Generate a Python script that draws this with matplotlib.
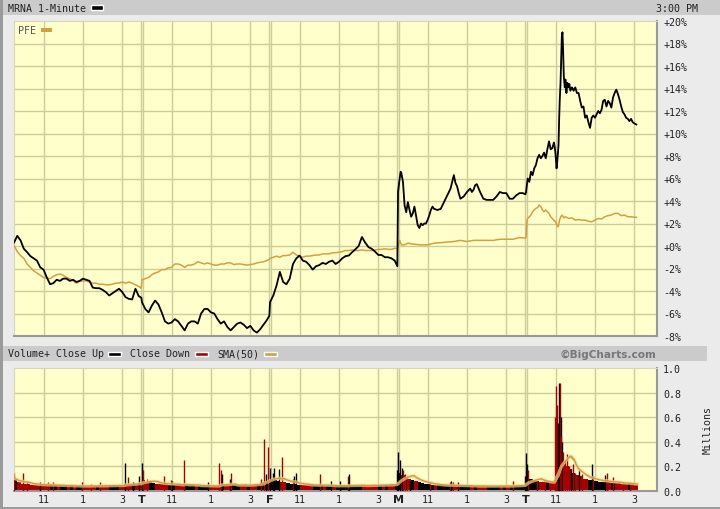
import matplotlib
matplotlib.use("Agg")
import matplotlib.pyplot as plt
from matplotlib.patches import Rectangle
import numpy as np

plt.rcParams["font.family"] = "DejaVu Sans Mono"

W, H = 720, 510
DAY = 390  # minutes in a session (9:30 - 4:00)

day_names = ["", "T", "F", "M", "T"]
hour_labels = ["11", "1", "3"]
hour_minutes = [90, 210, 330]

# sample times (minutes after the open) for the regular days
reg_t = list(range(0, 390, 10)) + [388]

# MRNA % change
mrna_d1 = [0.3, 0.9, 0.5, -0.25, -0.55, -0.9, -1.1, -1.3, -1.9, -2.1,
           -2.8, -3.4, -3.3, -3.0, -3.1, -2.9, -2.9, -3.1, -3.0, -3.2,
           -3.1, -2.9, -3.0, -3.1, -3.7, -3.75, -3.75, -3.9, -4.1, -4.4,
           -4.2, -4.0, -3.8, -4.1, -4.55, -4.7, -4.75, -3.8, -4.45, -4.6]
mrna_d2 = [-5.0, -5.6, -5.9, -5.3, -4.85, -5.2, -5.9, -6.7, -6.9, -6.8,
           -6.5, -6.7, -7.1, -7.5, -6.9, -6.7, -6.7, -6.9, -6.0, -5.6,
           -5.6, -5.9, -6.0, -6.5, -6.9, -6.7, -7.2, -7.5, -7.2, -6.9,
           -6.8, -7.0, -7.3, -7.1, -7.5, -7.7, -7.4, -7.0, -6.6, -6.2]
mrna_d3 = [-5.0, -4.4, -3.5, -2.3, -3.2, -3.4, -2.9, -1.6, -1.1, -0.85,
           -1.3, -1.4, -1.7, -2.1, -1.8, -1.7, -1.5, -1.6, -1.4, -1.3,
           -1.6, -1.4, -1.1, -0.9, -0.85, -0.55, -0.3, 0.0, 0.8, 0.3,
           -0.1, -0.25, -0.5, -0.8, -0.8, -1.0, -1.0, -1.1, -1.3, -1.8]
mrna_d4_t = [0, 5, 8, 10, 15, 20, 25, 30, 35, 40, 45, 50, 55, 60, 65, 70,
             75, 80, 85, 90, 95, 100, 105, 110, 120, 130, 140, 150, 160,
             165, 170, 175, 180, 185, 190, 200, 210, 220, 225, 230, 235,
             240, 250, 260, 270, 280, 290, 300, 310, 320, 330, 340, 350,
             360, 370, 380, 388]
mrna_d4 = [4.8, 6.0, 6.6, 6.5, 5.7, 3.6, 3.0, 3.9, 3.2, 2.6, 2.9, 3.5, 2.7,
           1.85, 1.6, 2.0, 1.85, 2.0, 2.0, 2.3, 2.7, 3.2, 3.5, 3.3, 3.2,
           3.3, 3.9, 4.5, 5.1, 5.7, 6.3, 5.6, 5.3, 4.7, 4.2, 4.4, 4.8,
           5.1, 4.8, 5.0, 5.4, 5.5, 4.8, 4.2, 4.1, 4.1, 4.1, 4.4, 4.8,
           4.7, 4.7, 4.2, 4.2, 4.5, 4.7, 4.7, 4.6]
mrna_d5_t = [0, 5, 10, 15, 20, 25, 30, 35, 40, 45, 50, 55, 60, 65, 70, 75,
             80, 85, 88, 90, 93, 96, 99, 101, 103, 105, 107, 109, 111, 113,
             115, 118, 120, 123, 126, 129, 132, 135, 140, 145, 150, 155,
             160, 165, 170, 175, 180, 185, 190, 195, 200, 205, 210, 215,
             220, 225, 230, 235, 240, 245, 250, 255, 260, 265, 270, 275,
             280, 285, 290, 295, 300, 305, 310, 315, 320, 325, 330, 336]
mrna_d5 = [4.8, 6.0, 5.7, 6.6, 6.3, 6.9, 7.2, 7.8, 8.1, 7.8, 8.0, 8.3, 7.8,
           8.6, 9.3, 8.6, 8.7, 9.2, 8.7, 8.1, 6.9, 7.8, 9.0, 11.4, 13.2,
           14.4, 16.5, 18.6, 19.0, 17.4, 15.1, 14.1, 14.8, 13.6, 14.5,
           14.1, 14.4, 13.8, 14.1, 13.8, 14.1, 13.6, 13.6, 12.9, 12.3,
           12.4, 11.4, 11.6, 11.0, 10.5, 11.4, 11.6, 11.4, 11.7, 12.0,
           11.8, 12.1, 12.9, 13.0, 12.4, 12.9, 12.7, 12.3, 13.2, 13.6,
           13.9, 13.5, 13.0, 12.4, 11.9, 11.7, 11.4, 11.3, 11.1, 11.3,
           11.0, 10.9, 10.8]

# PFE % change
pfe_d1 = [0.05, -0.5, -0.85, -1.1, -1.6, -1.9, -2.2, -2.4, -2.6, -2.8,
          -2.85, -2.9, -2.7, -2.55, -2.5, -2.6, -2.8, -2.9, -3.1, -3.3,
          -3.15, -3.1, -3.1, -3.2, -3.3, -3.3, -3.4, -3.4, -3.45, -3.45,
          -3.4, -3.3, -3.3, -3.2, -3.3, -3.2, -3.3, -3.45, -3.6, -3.75]
pfe_d2 = [-3.0, -2.9, -2.8, -2.55, -2.4, -2.3, -2.1, -2.1, -1.95, -1.9,
          -1.6, -1.6, -1.7, -1.9, -1.7, -1.7, -1.6, -1.4, -1.5, -1.6,
          -1.5, -1.6, -1.7, -1.7, -1.6, -1.6, -1.5, -1.5, -1.65, -1.6,
          -1.6, -1.65, -1.7, -1.65, -1.6, -1.5, -1.45, -1.4, -1.3, -1.2]
pfe_d3 = [-1.1, -1.0, -0.9, -1.0, -0.85, -0.85, -0.8, -0.55, -0.8, -0.9,
          -1.0, -0.9, -0.9, -0.85, -0.8, -0.8, -0.7, -0.7, -0.7, -0.6,
          -0.6, -0.55, -0.5, -0.4, -0.4, -0.35, -0.4, -0.4, -0.35, -0.4,
          -0.4, -0.4, -0.35, -0.3, -0.3, -0.25, -0.3, -0.3, -0.2, -0.25]
pfe_d4_t = [0, 5, 10, 20, 30, 50, 70, 90, 110, 130, 150, 170, 190, 210,
            230, 250, 270, 290, 310, 330, 350, 370, 388]
pfe_d4 = [0.0, 0.5, 0.1, 0.1, 0.25, 0.15, 0.1, 0.1, 0.25, 0.3, 0.35, 0.4,
          0.5, 0.4, 0.5, 0.5, 0.5, 0.5, 0.6, 0.6, 0.6, 0.75, 0.7]
pfe_d5_t = [0, 3, 5, 10, 15, 20, 25, 30, 35, 40, 45, 50, 55, 60, 65, 70, 75,
            80, 85, 90, 94, 98, 102, 106, 110, 115, 120, 130, 140, 150, 160,
            170, 180, 190, 200, 210, 220, 230, 240, 250, 260, 270, 280,
            290, 300, 310, 320, 330, 336]
pfe_d5 = [0.8, 2.3, 2.45, 2.6, 2.75, 3.05, 3.2, 3.35, 3.4, 3.65, 3.5, 3.2,
          3.05, 3.2, 3.05, 2.9, 2.6, 2.45, 2.3, 2.15, 1.85, 1.7, 2.3, 2.6,
          2.75, 2.5, 2.6, 2.45, 2.5, 2.3, 2.35, 2.3, 2.3, 2.2, 2.15, 2.3,
          2.45, 2.4, 2.6, 2.7, 2.75, 2.9, 2.9, 2.7, 2.75, 2.6, 2.6, 2.55,
          2.55]

# volume (millions), typical bar height per 10-minute block
vol_d1 = [0.09, 0.07, 0.06, 0.055, 0.055, 0.05, 0.05, 0.05, 0.048, 0.048,
          0.045, 0.045, 0.045, 0.045, 0.042, 0.042, 0.042, 0.04, 0.04, 0.04,
          0.04, 0.04, 0.04, 0.04, 0.04, 0.04, 0.042, 0.042, 0.042, 0.045,
          0.045, 0.045, 0.045, 0.048, 0.05, 0.05, 0.055, 0.06, 0.065]
vol_d2 = [0.09, 0.075, 0.07, 0.065, 0.06, 0.06, 0.055, 0.055, 0.05, 0.05,
          0.048, 0.048, 0.045, 0.045, 0.045, 0.045, 0.042, 0.042, 0.042,
          0.04, 0.04, 0.04, 0.04, 0.042, 0.045, 0.045, 0.045, 0.045, 0.045,
          0.045, 0.048, 0.048, 0.05, 0.05, 0.055, 0.06, 0.065, 0.07, 0.08]
vol_d3 = [0.1, 0.09, 0.08, 0.075, 0.07, 0.065, 0.06, 0.055, 0.05, 0.05,
          0.05, 0.048, 0.048, 0.045, 0.045, 0.045, 0.042, 0.042, 0.042,
          0.04, 0.04, 0.04, 0.04, 0.04, 0.042, 0.042, 0.045, 0.045, 0.045,
          0.045, 0.045, 0.045, 0.048, 0.048, 0.05, 0.05, 0.05, 0.055, 0.06]
vol_d4 = [0.15, 0.13, 0.11, 0.1, 0.09, 0.08, 0.07, 0.065, 0.06, 0.055,
          0.05, 0.048, 0.048, 0.045, 0.045, 0.045, 0.045, 0.042, 0.042,
          0.042, 0.042, 0.04, 0.04, 0.04, 0.04, 0.04, 0.04, 0.04, 0.04,
          0.04, 0.04, 0.04, 0.04, 0.04, 0.042, 0.042, 0.045, 0.045, 0.05]
vol_d5 = [0.11, 0.1, 0.09, 0.08, 0.075, 0.07, 0.07, 0.065, 0.07, 0.12,
          0.28, 0.22, 0.2, 0.18, 0.15, 0.13, 0.12, 0.1, 0.095, 0.09, 0.085,
          0.08, 0.075, 0.075, 0.07, 0.07, 0.065, 0.065, 0.065, 0.06, 0.06,
          0.055, 0.055, 0.05]

# single-minute volume spikes: minute from first open, millions, closed up?
spike_min = [0, 26, 39, 79, 105, 120, 206, 234, 262, 338, 348, 364, 382,
             390, 394, 404, 458, 477, 480, 519, 592, 626, 630, 633, 658, 661,
             753, 763, 767, 775, 780, 788, 792, 807, 818, 851, 852, 859, 932,
             966, 993, 1017, 1022, 1166, 1171, 1176, 1181, 1186, 1191, 1197,
             1207, 1268, 1328, 1330, 1339, 1354, 1521, 1557, 1560, 1564,
             1567, 1593, 1618, 1633, 1647, 1650, 1653, 1656, 1659, 1662,
             1665, 1668, 1671, 1674, 1679, 1685, 1691, 1697, 1703, 1709,
             1720, 1730, 1760, 1765, 1801, 1806, 1826, 1856, 1877]
spike_vol = [0.14, 0.15, 0.085, 0.07, 0.07, 0.075, 0.07, 0.06, 0.077, 0.23,
             0.11, 0.077, 0.125, 0.23, 0.17, 0.1, 0.12, 0.09, 0.085, 0.25,
             0.07, 0.23, 0.17, 0.14, 0.1, 0.15, 0.1, 0.42, 0.14, 0.36, 0.19,
             0.15, 0.19, 0.18, 0.28, 0.1, 0.125, 0.15, 0.14, 0.085, 0.085,
             0.12, 0.14, 0.17, 0.32, 0.25, 0.19, 0.17, 0.14, 0.125, 0.085,
             0.07, 0.07, 0.085, 0.077, 0.07, 0.085, 0.125, 0.31, 0.22, 0.17,
             0.085, 0.1, 0.085, 0.6, 0.85, 0.7, 0.55, 0.88, 0.88, 0.6, 0.45,
             0.4, 0.32, 0.25, 0.3, 0.2, 0.18, 0.22, 0.15, 0.17, 0.14, 0.22,
             0.12, 0.13, 0.15, 0.11, 0.077, 0.07]
spike_up = [0, 0, 0, 1, 0, 0, 0, 0, 0, 1, 0, 1, 1, 1, 0, 0, 0, 0, 1, 0, 1, 0,
            0, 1, 1, 0, 0, 0, 1, 0, 1, 1, 1, 1, 0, 0, 1, 1, 0, 1, 1, 0, 1, 1,
            1, 1, 1, 0, 0, 0, 1, 0, 0, 1, 0, 1, 0, 1, 1, 1, 0, 0, 0, 0, 0, 0,
            0, 1, 1, 0, 1, 0, 1, 0, 0, 0, 0, 1, 0, 0, 1, 0, 1, 0, 1, 0, 0, 0,
            0]

C_BG = "#ebebeb"
C_BAR = "#cbcbcb"
C_PLOT = "#ffffcc"
C_GRID = "#cccc99"
C_GOLD = "#d4a03c"
C_RED = "#aa0000"
C_TXT = "#222222"


def join_days(parts):
    t, v = [], []
    for d, (tt, vv) in enumerate(parts):
        t += [d * DAY + m for m in tt]
        v += list(vv)
    return np.array(t, float), np.array(v, float)


mrna_t, mrna_v = join_days([(reg_t, mrna_d1), (reg_t, mrna_d2), (reg_t, mrna_d3),
                            (mrna_d4_t, mrna_d4), (mrna_d5_t, mrna_d5)])
pfe_t, pfe_v = join_days([(reg_t, pfe_d1), (reg_t, pfe_d2), (reg_t, pfe_d3),
                          (pfe_d4_t, pfe_d4), (pfe_d5_t, pfe_d5)])

fig = plt.figure(figsize=(W / 100, H / 100), dpi=100, facecolor=C_BG)


def px_axes(x0, y0, x1, y1):
    return fig.add_axes([x0 / W, 1 - y1 / H, (x1 - x0) / W, (y1 - y0) / H])


def px_rect(x0, y0, x1, y1, **kw):
    fig.add_artist(Rectangle((x0 / W, 1 - y1 / H), (x1 - x0) / W, (y1 - y0) / H,
                             transform=fig.transFigure, **kw))


def px_text(x, y, s, **kw):
    kw.setdefault("color", C_TXT)
    kw.setdefault("fontsize", 7.2)
    kw.setdefault("va", "center")
    fig.text(x / W, 1 - y / H, s, **kw)


# frame strips and header bars
px_rect(0, 0, 2.5, H, color="#9a9a9a", lw=0)
px_rect(0, H - 2.5, W, H, color="#9a9a9a", lw=0)
px_rect(2.5, 0, W, 16, color=C_BAR, lw=0)
px_rect(2.5, 347, 707, 362, color=C_BAR, lw=0)

XMAX = 1959


def style_axes(ax):
    ax.set_facecolor(C_PLOT)
    ax.set_xlim(0, XMAX)
    for d in range(5):
        for hm in hour_minutes:
            ax.axvline(d * DAY + hm, color=C_GRID, lw=1, zorder=0)
        if d > 0:
            ax.axvline(d * DAY - 3, color=C_GRID, lw=1, zorder=0)
            ax.axvline(d * DAY + 3, color=C_GRID, lw=1, zorder=0)
    for side in ("top", "left"):
        ax.spines[side].set_color("#d6d6b8")
    for side in ("bottom", "right"):
        ax.spines[side].set_color("#999999")
        ax.spines[side].set_linewidth(1.5)
    ax.yaxis.tick_right()
    ax.tick_params(axis="y", length=0, pad=4.5, labelsize=7.2, labelcolor=C_TXT)


# ---- price panel ----
ax = px_axes(14, 22, 657, 337)
style_axes(ax)
ax.set_ylim(-8, 20)
yt = list(range(-8, 21, 2))
for v in yt[1:-1]:
    ax.axhline(v, color=C_GRID, lw=1, zorder=0)
ax.set_yticks(yt)
ax.set_yticklabels([f"{v:+d}%" for v in yt])
ax.set_xticks([])
ax.plot(pfe_t, pfe_v, color=C_GOLD, lw=1.1, zorder=3)
ax.plot(mrna_t, mrna_v, color="black", lw=1.3, zorder=4)

px_text(8, 8.5, "MRNA 1-Minute")
px_rect(90.5, 5.5, 102.5, 10.5, facecolor="black", edgecolor="white", lw=1)
px_text(698, 8.5, "3:00 PM", ha="right")
px_text(18, 30.5, "PFE", color="#555555")
px_rect(41, 29, 52, 32.5, color=C_GOLD, lw=0)

# ---- volume panel ----
n_min = 4 * DAY + len(vol_d5) * 10
blocks = vol_d1 + vol_d2 + vol_d3 + vol_d4 + vol_d5
block_start = []
for d, blk in enumerate([vol_d1, vol_d2, vol_d3, vol_d4, vol_d5]):
    block_start += [d * DAY + 10 * i for i in range(len(blk))]
block_start = np.array(block_start, float)
p0 = np.interp(block_start, mrna_t, mrna_v)
p1 = np.interp(block_start + 10, mrna_t, mrna_v)
block_col = ["black" if b >= a else C_RED for a, b in zip(p0, p1)]

per_min = np.repeat(np.array(blocks), 10)[:n_min].astype(float)
for m, v in zip(spike_min, spike_vol):
    per_min[m] = max(per_min[m], v)
csum = np.cumsum(np.insert(per_min, 0, 0))
idx = np.arange(1, n_min + 1)
lo = np.maximum(idx - 50, 0)
sma = (csum[idx] - csum[lo]) / (idx - lo)

axv = px_axes(14, 369, 657, 492)
style_axes(axv)
axv.set_ylim(0, 1.0)
vt = [0, 0.2, 0.4, 0.6, 0.8, 1.0]
for v in vt[1:-1]:
    axv.axhline(v, color=C_GRID, lw=1, zorder=0)
axv.set_yticks(vt)
axv.set_yticklabels([f"{v:.1f}" for v in vt])
axv.bar(block_start, blocks, width=10, align="edge", color=block_col, lw=0, zorder=2)
axv.vlines(spike_min, 0, spike_vol, colors=["black" if u else C_RED for u in spike_up],
           lw=1.0, zorder=3)
axv.plot(np.arange(n_min), sma, color="#f0d49a", lw=2.4, zorder=4, alpha=0.7)
axv.plot(np.arange(n_min), sma, color="#d49a3c", lw=1.0, zorder=5)

xt, xl = [], []
for d in range(5):
    if d > 0:
        xt.append(d * DAY)
        xl.append(day_names[d])
    for hm, lab in zip(hour_minutes, hour_labels):
        xt.append(d * DAY + hm)
        xl.append(lab)
axv.set_xticks(xt)
axv.set_xticklabels(xl)
axv.tick_params(axis="x", length=0, pad=2, labelsize=7.2, labelcolor=C_TXT)
for lab in axv.get_xticklabels():
    if lab.get_text() in day_names[1:]:
        lab.set_fontweight("bold")
        lab.set_fontfamily("DejaVu Sans")
        lab.set_fontsize(8)

px_text(708, 430, "Millions", rotation=90, ha="center")

px_text(7.5, 354.5, "Volume+ Close Up")
px_rect(107.5, 352.5, 120.5, 357, facecolor="black", edgecolor="white", lw=1)
px_text(130.5, 354.5, "Close Down")
px_rect(195.5, 352.5, 208.5, 357, facecolor=C_RED, edgecolor="white", lw=1)
px_text(217, 354.5, "SMA(50)")
px_rect(264, 352.5, 277, 357, facecolor=C_GOLD, edgecolor="white", lw=1)
px_text(656, 354.5, "\u00a9BigCharts.com", ha="right", color="#777777",
        fontweight="bold", family="DejaVu Sans", fontsize=7.6)

fig.savefig("out.png", dpi=100, facecolor=C_BG)
